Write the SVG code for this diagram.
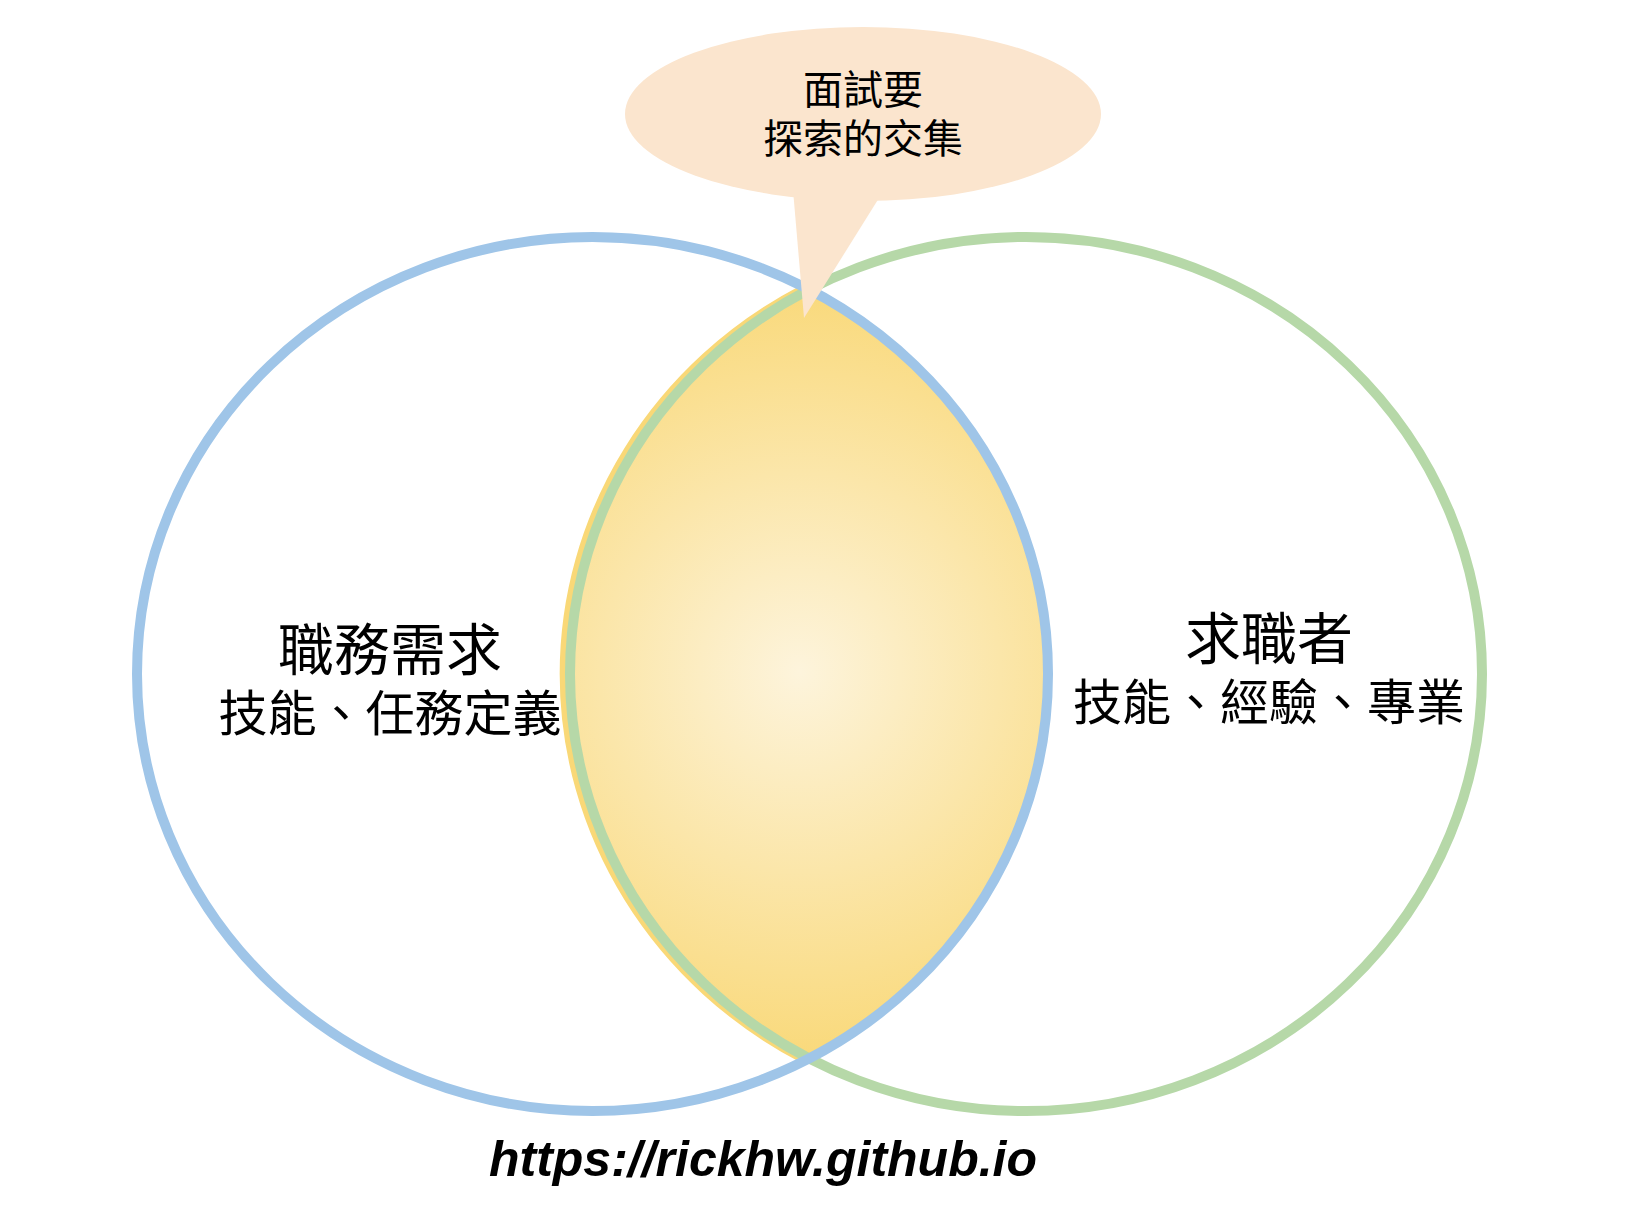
<svg xmlns="http://www.w3.org/2000/svg" width="1644" height="1214" viewBox="0 0 1644 1214">
  <defs>
    <radialGradient id="lensGrad" gradientUnits="userSpaceOnUse" cx="800" cy="672" r="400">
      <stop offset="0" stop-color="#FDF4DC"/>
      <stop offset="1" stop-color="#F9D877"/>
    </radialGradient>
    <style>
      .cjk { font-family: "Noto Sans CJK TC", "Noto Sans CJK SC", sans-serif; fill: #000; text-anchor: middle; }
      .ring { fill: none; stroke-width: 10; }
      .url { font-family: "Liberation Sans", Arial, sans-serif; font-weight: bold; font-style: italic; fill: #000; text-anchor: middle; }
    </style>
  </defs>
  <rect width="1644" height="1214" fill="#FFFFFF"/>

  <g id="intersection">
    <path transform="translate(-6,0)" d="M809 290 A455.5 437 0 0 1 809 1058 A456 437 0 0 1 809 290 Z" fill="none" stroke="#F9D877" stroke-width="10"/>
    <path d="M809 290 A455.5 437 0 0 1 809 1058 A456 437 0 0 1 809 290 Z" fill="url(#lensGrad)"/>
  </g>

  <g id="jobseeker">
    <ellipse class="ring" cx="1026" cy="674" rx="456" ry="437" stroke="#B6D8A8"/>
    <text class="cjk" x="1269" y="659" font-size="56">求職者</text>
    <text class="cjk" x="1269" y="720" font-size="49">技能、經驗、專業</text>
  </g>

  <g id="job">
    <ellipse class="ring" cx="592.5" cy="674" rx="455.5" ry="437" stroke="#9FC5E8"/>
    <text class="cjk" x="390" y="670" font-size="56">職務需求</text>
    <text class="cjk" x="390" y="731" font-size="49">技能、任務定義</text>
  </g>

  <g id="callout">
    <ellipse cx="863" cy="114" rx="238" ry="87" fill="#FBE5CE"/>
    <polygon points="793,190 804,318 884,190" fill="#FBE5CE"/>
    <text class="cjk" x="863" y="104" font-size="40">面試要</text>
    <text class="cjk" x="863" y="153" font-size="40">探索的交集</text>
  </g>

  <g id="connectors"></g>

  <text class="url" x="763" y="1176" font-size="50">https://rickhw.github.io</text>
</svg>
